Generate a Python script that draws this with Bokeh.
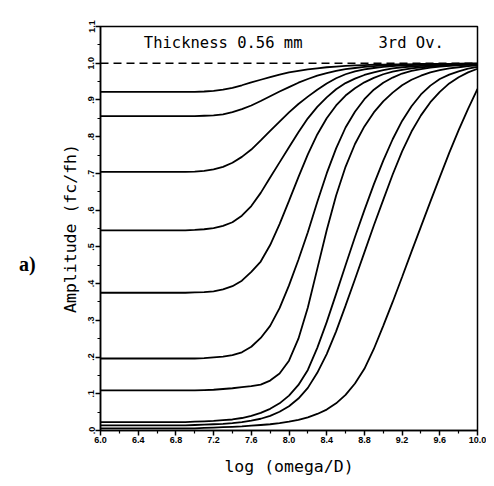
from bokeh.plotting import figure
from bokeh.models import FixedTicker, Label, Span, Div
from bokeh.layouts import row
from bokeh.embed import file_html
from bokeh.resources import INLINE

# ---- data ----
x_vals = [6.0, 6.1, 6.2, 6.3, 6.4, 6.5, 6.6, 6.7, 6.8, 6.9,
          7.0, 7.1, 7.2, 7.3, 7.4, 7.5, 7.6, 7.7, 7.8, 7.9,
          8.0, 8.1, 8.2, 8.3, 8.4, 8.5, 8.6, 8.7, 8.8, 8.9,
          9.0, 9.1, 9.2, 9.3, 9.4, 9.5, 9.6, 9.7, 9.8, 9.9, 10.0]

curve_1 = [0.922, 0.922, 0.922, 0.922, 0.922, 0.922, 0.922, 0.922, 0.922, 0.922,
           0.922, 0.923, 0.925, 0.928, 0.933, 0.940, 0.948, 0.955, 0.962, 0.969,
           0.975, 0.979, 0.983, 0.986, 0.989, 0.991, 0.993, 0.994, 0.995, 0.996,
           0.996, 0.997, 0.997, 0.997, 0.998, 0.998, 0.998, 0.998, 0.999, 0.999, 0.999]
curve_2 = [0.856, 0.856, 0.856, 0.856, 0.856, 0.856, 0.856, 0.856, 0.856, 0.856,
           0.856, 0.857, 0.858, 0.861, 0.867, 0.875, 0.885, 0.897, 0.910, 0.923,
           0.935, 0.947, 0.957, 0.966, 0.973, 0.979, 0.984, 0.987, 0.990, 0.992,
           0.994, 0.995, 0.996, 0.996, 0.997, 0.997, 0.998, 0.998, 0.998, 0.999, 0.999]
curve_3 = [0.704, 0.704, 0.704, 0.704, 0.704, 0.704, 0.704, 0.704, 0.704, 0.704,
           0.705, 0.707, 0.711, 0.718, 0.729, 0.745, 0.765, 0.790, 0.816, 0.841,
           0.866, 0.889, 0.909, 0.928, 0.945, 0.959, 0.970, 0.978, 0.983, 0.987,
           0.990, 0.992, 0.994, 0.995, 0.996, 0.996, 0.997, 0.997, 0.998, 0.998, 0.999]
curve_4 = [0.545, 0.545, 0.545, 0.545, 0.545, 0.545, 0.545, 0.545, 0.545, 0.545,
           0.546, 0.548, 0.551, 0.557, 0.567, 0.585, 0.611, 0.647, 0.689, 0.730,
           0.771, 0.812, 0.850, 0.881, 0.907, 0.929, 0.946, 0.958, 0.968, 0.975,
           0.981, 0.986, 0.989, 0.991, 0.993, 0.994, 0.995, 0.996, 0.997, 0.997, 0.998]
curve_5 = [0.375, 0.375, 0.375, 0.375, 0.375, 0.375, 0.375, 0.375, 0.375, 0.375,
           0.376, 0.377, 0.379, 0.384, 0.393, 0.408, 0.432, 0.460, 0.505, 0.562,
           0.625, 0.690, 0.752, 0.806, 0.850, 0.885, 0.912, 0.932, 0.948, 0.960,
           0.970, 0.977, 0.982, 0.986, 0.989, 0.991, 0.993, 0.994, 0.995, 0.996, 0.997]
curve_6 = [0.196, 0.196, 0.196, 0.196, 0.196, 0.196, 0.196, 0.196, 0.196, 0.196,
           0.196, 0.197, 0.199, 0.201, 0.205, 0.213, 0.228, 0.252, 0.285, 0.333,
           0.395, 0.465, 0.540, 0.622, 0.700, 0.768, 0.825, 0.868, 0.902, 0.928,
           0.947, 0.961, 0.972, 0.979, 0.984, 0.988, 0.991, 0.993, 0.995, 0.996, 0.997]
curve_7 = [0.109, 0.109, 0.109, 0.109, 0.109, 0.109, 0.109, 0.109, 0.109, 0.109,
           0.109, 0.110, 0.111, 0.113, 0.115, 0.118, 0.121, 0.125, 0.136, 0.155,
           0.190, 0.250, 0.335, 0.440, 0.545, 0.640, 0.718, 0.780, 0.828, 0.866,
           0.896, 0.920, 0.940, 0.955, 0.966, 0.975, 0.981, 0.986, 0.989, 0.992, 0.994]
curve_8 = [0.023, 0.023, 0.023, 0.023, 0.023, 0.023, 0.023, 0.023, 0.023, 0.023,
           0.024, 0.025, 0.026, 0.028, 0.030, 0.034, 0.040, 0.048, 0.059, 0.074,
           0.095, 0.124, 0.165, 0.225, 0.295, 0.372, 0.450, 0.527, 0.600, 0.670,
           0.735, 0.793, 0.843, 0.883, 0.915, 0.939, 0.957, 0.969, 0.978, 0.985, 0.990]
curve_9 = [0.014, 0.014, 0.014, 0.014, 0.014, 0.014, 0.014, 0.014, 0.014, 0.014,
           0.015, 0.016, 0.017, 0.018, 0.020, 0.023, 0.027, 0.032, 0.040, 0.051,
           0.066, 0.087, 0.116, 0.157, 0.208, 0.270, 0.340, 0.412, 0.485, 0.558,
           0.628, 0.697, 0.760, 0.814, 0.858, 0.894, 0.922, 0.945, 0.962, 0.975, 0.985]
curve_10 = [0.006, 0.006, 0.006, 0.006, 0.006, 0.006, 0.006, 0.006, 0.006, 0.006,
            0.006, 0.007, 0.008, 0.009, 0.010, 0.011, 0.013, 0.015, 0.017, 0.020,
            0.024, 0.029, 0.036, 0.045, 0.057, 0.074, 0.097, 0.128, 0.168, 0.222,
            0.285, 0.350, 0.418, 0.487, 0.555, 0.623, 0.690, 0.756, 0.818, 0.876, 0.930]

ref_level = 1.0

x_ticks = [6.0, 6.4, 6.8, 7.2, 7.6, 8.0, 8.4, 8.8, 9.2, 9.6, 10.0]
x_tick_labels = ["6.0", "6.4", "6.8", "7.2", "7.6", "8.0", "8.4", "8.8", "9.2", "9.6", "10.0"]
x_minor = [6.2, 6.6, 7.0, 7.4, 7.8, 8.2, 8.6, 9.0, 9.4, 9.8]
y_ticks = [0.0, 0.1, 0.2, 0.3, 0.4, 0.5, 0.6, 0.7, 0.8, 0.9, 1.0, 1.1]
y_tick_labels = [".0", ".1", ".2", ".3", ".4", ".5", ".6", ".7", ".8", ".9", "1.0", "1.1"]
y_minor = [0.05, 0.15, 0.25, 0.35, 0.45, 0.55, 0.65, 0.75, 0.85, 0.95, 1.05]

title_left = "Thickness 0.56 mm"
title_right = "3rd Ov."
x_label = "log (omega/D)"
y_label = "Amplitude (fc/fh)"
panel_tag = "a)"

# ---- figure ----
p = figure(width=446, height=484, x_range=(6.0, 10.0), y_range=(0.0, 1.1),
           output_backend="svg", toolbar_location=None,
           min_border_left=60, min_border_right=9, min_border_top=26, min_border_bottom=54)
p.margin = 0
p.grid.visible = False
p.background_fill_color = "white"
p.border_fill_color = "white"
p.outline_line_color = "black"
p.outline_line_width = 1.5
p.outline_line_alpha = 1.0

p.xaxis.ticker = FixedTicker(ticks=x_ticks, minor_ticks=x_minor)
p.yaxis.ticker = FixedTicker(ticks=y_ticks, minor_ticks=y_minor)
p.xaxis.major_label_overrides = {t: l for t, l in zip(x_ticks, x_tick_labels)}
p.yaxis.major_label_overrides = {t: l for t, l in zip(y_ticks, y_tick_labels)}
p.yaxis.major_label_orientation = "vertical"

for ax in (p.xaxis, p.yaxis):
    ax.axis_line_color = "black"
    ax.axis_line_width = 1.5
    ax.major_tick_line_color = "black"
    ax.minor_tick_line_color = "black"
    ax.major_tick_line_width = 1.5
    ax.minor_tick_line_width = 1.2
    ax.major_tick_in = 0
    ax.major_tick_out = 5
    ax.minor_tick_in = 0
    ax.minor_tick_out = 3
    ax.major_label_text_font = "Liberation Sans"
    ax.major_label_text_font_style = "bold"
    ax.major_label_text_font_size = "9px"
    ax.major_label_text_color = "black"
    ax.major_label_standoff = 1
    ax.axis_label_text_font = "DejaVu Sans Mono"
    ax.axis_label_text_font_style = "normal"
    ax.axis_label_text_font_size = "16.5px"
    ax.axis_label_text_color = "black"

p.xaxis.axis_label = x_label
p.yaxis.axis_label = y_label
p.xaxis.axis_label_standoff = 11
p.yaxis.axis_label_standoff = 6

series = [curve_1, curve_2, curve_3, curve_4, curve_5,
          curve_6, curve_7, curve_8, curve_9, curve_10]
for ys in series:
    p.line(x_vals, ys, line_color="black", line_width=1.8)

p.add_layout(Span(location=ref_level, dimension="width", line_color="black",
                  line_width=1.6, line_dash="8 5"))

p.add_layout(Label(x=6.46, y=1.056, text=title_left, text_font="DejaVu Sans Mono",
                   text_font_size="15.5px", text_baseline="middle", text_align="left",
                   text_color="black"))
p.add_layout(Label(x=8.95, y=1.056, text=title_right, text_font="DejaVu Sans Mono",
                   text_font_size="15.5px", text_baseline="middle", text_align="left",
                   text_color="black"))

tag = Div(text=panel_tag, width=40, height=484, margin=0,
          styles={"font-family": "Liberation Serif", "font-size": "20px",
                  "font-weight": "bold", "color": "black",
                  "padding-top": "250px", "padding-left": "19px",
                  "box-sizing": "border-box"})

layout = row(tag, p, spacing=0)

open("out.html", "w").write(file_html(layout, INLINE))
